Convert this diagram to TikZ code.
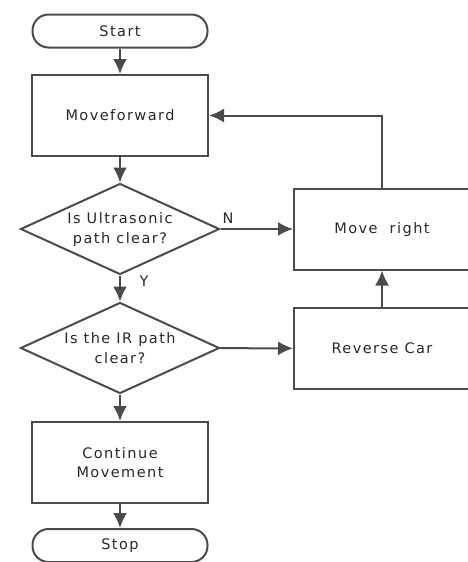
\documentclass[tikz,border=0pt]{standalone}
\usepackage{fontspec}
\setmainfont{DejaVu Sans}[LetterSpace=10]
\usepackage{tikz}
\usetikzlibrary{shapes.geometric}
\usetikzlibrary{arrows.meta}
\tikzset{>={Latex[length=15pt,width=14pt]}}
\definecolor{flowline}{RGB}{75,75,75}
\definecolor{flowtext}{RGB}{40,40,40}
\tikzset{
	flowbox/.style={draw=flowline, line width=2pt, rectangle, minimum width=176pt, minimum height=81pt, align=center, text=flowtext, font=\fontsize{14.5}{19}\selectfont},
	termbox/.style={draw=flowline, line width=2pt, rectangle, rounded corners=16pt, minimum width=175pt, minimum height=33pt, text=flowtext, font=\fontsize{14.5}{16}\selectfont},
	testbox/.style={draw=flowline, line width=2pt, diamond, aspect=2.2, inner sep=0pt, minimum width=199pt, minimum height=91pt, align=center, text=flowtext, font=\fontsize{14.5}{20}\selectfont},
	flowarrow/.style={draw=flowline, line width=2pt, ->},
	flowlabel/.style={text=flowtext, font=\fontsize{14.5}{16}\selectfont}
}

\begin{document}
\begin{tikzpicture}[x=1pt, y=-1pt]
			\useasboundingbox (0,0) rectangle (467,562);
			% left column
			\node[termbox] (start) at (120,31) {Start};
			\node[flowbox] (fwd) at (120,115.5) {Moveforward};
			\node[testbox] (ultra) at (120,229) {Is Ultrasonic\\path clear?};
			\node[testbox] (ir) at (120,348) {Is the IR path\\clear?};
			\node[flowbox] (cont) at (120,462.5) {Continue\\Movement};
			\node[termbox] (stop) at (120,545.5) {Stop};
			% right column
			\node[flowbox] (right) at (382,229) {Move\ \ right};
			\node[flowbox] (rev) at (382,348.5) {Reverse Car};
			
			\draw[flowarrow] (start) -- (fwd);
			\draw[flowarrow] (fwd) -- (ultra);
			\draw[flowarrow] (ultra) -- (ir);
			\draw[flowarrow] (ultra) -- (right);
			\draw[flowarrow] (ir) -- (rev);
			\draw[flowarrow] (ir) -- (cont);
			\draw[flowarrow] (cont) -- (stop);
			\draw[flowarrow] (rev) -- (right);
			\draw[flowarrow] (right.north) |- (fwd.east);
			\node[flowlabel] (ylabel) at (144,281) {Y};
			\node[flowlabel] (nlabel) at (228,218) {N};
		\end{tikzpicture}
\end{document}
